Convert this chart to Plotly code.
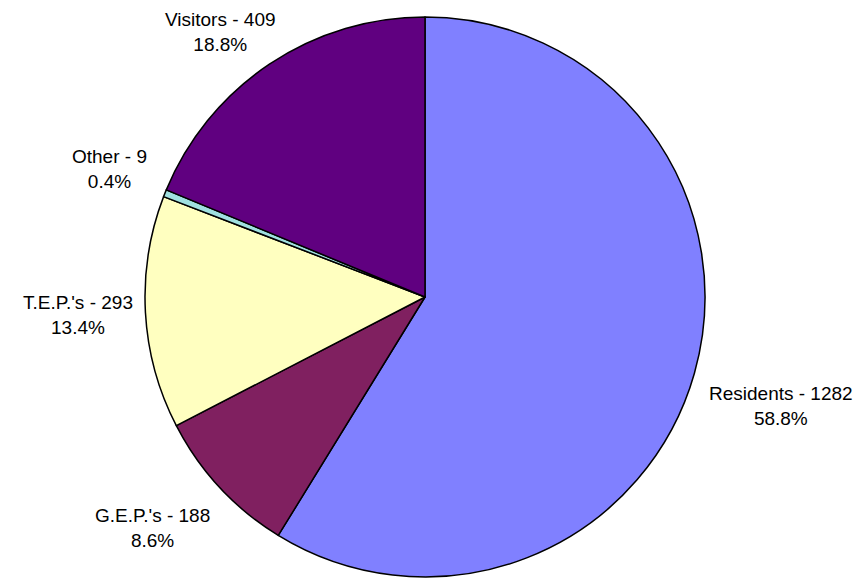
import math
import plotly.graph_objects as go

labels = ["Residents", "G.E.P.'s", "T.E.P.'s", "Other", "Visitors"]
values = [1282, 188, 293, 9, 409]
colors = ["#8080FF", "#802060", "#FFFFC0", "#A0E0E0", "#600080"]

W, H = 861, 578
# page body has an 8px margin, so the figure is drawn 8px right/down
CX, CY, R = 417, 289, 280
FONT_SIZE = 19
GAP = 25
# small hand nudges (px) so the labels sit where the original put them
NUDGE = {"Residents": (-7, 20), "G.E.P.'s": (-3, 7), "T.E.P.'s": (20, 0),
         "Other": (5, -6), "Visitors": (0, 8)}

fig = go.Figure(
    go.Pie(
        labels=labels,
        values=values,
        sort=False,
        direction="clockwise",
        rotation=0,
        textinfo="none",
        hoverinfo="label+value+percent",
        marker=dict(colors=colors, line=dict(color="black", width=1.5)),
        domain=dict(x=[(CX - R) / W, (CX + R) / W], y=[(H - CY - R) / H, (H - CY + R) / H]),
        showlegend=False,
    )
)

# labels outside the rim, pushed out along each slice's mid-angle
total = sum(values)
cum = 0
annotations = []
for name, v in zip(labels, values):
    mid = (cum + v / 2) / total * 2 * math.pi
    cum += v
    dx, dy = math.sin(mid), -math.cos(mid)
    line1 = f"{name} - {v}"
    w = len(line1) * 9
    h = 47
    nx, ny = NUDGE.get(name, (0, 0))
    px_ = CX + dx * (R + GAP) + dx * w / 2 + nx
    py_ = CY + dy * (R + GAP) + dy * h / 2 + ny
    annotations.append(
        dict(
            x=px_ / W,
            y=1 - py_ / H,
            xref="paper",
            yref="paper",
            text=f"{line1}<br>{v / total * 100:.1f}%",
            showarrow=False,
            xanchor="center",
            yanchor="middle",
            align="center",
            font=dict(family="Liberation Sans, Arial, sans-serif", size=FONT_SIZE, color="black"),
        )
    )

fig.update_layout(
    width=W,
    height=H,
    margin=dict(l=0, r=0, t=0, b=0),
    paper_bgcolor="white",
    plot_bgcolor="white",
    annotations=annotations,
)

fig.write_html("out.html")
